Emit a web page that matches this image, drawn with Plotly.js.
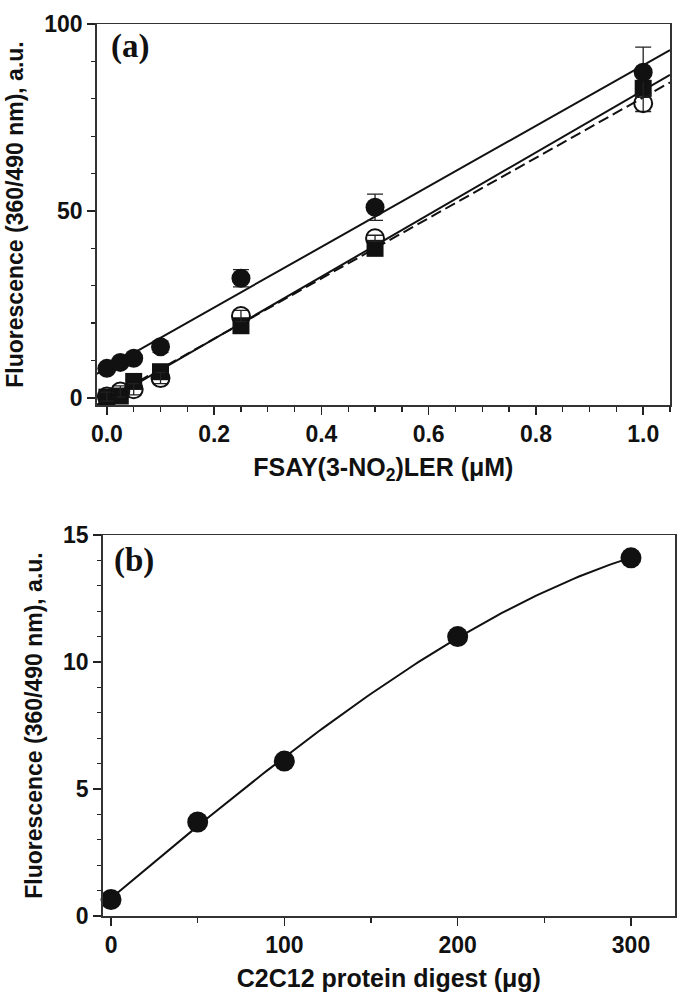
<!DOCTYPE html>
<html>
<head>
<meta charset="utf-8">
<script src="https://cdn.plot.ly/plotly-3.0.1.min.js"></script>
<style>html,body{margin:0;padding:0;background:#fff;}#chart{width:684px;height:1005px;}</style>
</head>
<body>
<div id="chart"></div>
<script>
// Panel (a): FSAY(3-NO2)LER concentration (µM)
const concA = [0, 0.025, 0.05, 0.1, 0.25, 0.5, 1.0];
const filledCircleA = [7.9, 9.5, 10.6, 13.7, 32.0, 51.0, 87.1];
const filledCircleErrA = [0.6, 0.6, 0.8, 1.5, 2.3, 3.5, 6.7];
const squareA = [0.2, 0.5, 4.4, 7.0, 19.3, 40.0, 82.8];
const squareErrA = [0.4, 0.4, 0.5, 0.7, 0.8, 1.0, 1.5];
const openCircleA = [0.35, 1.7, 2.3, 5.3, 21.9, 42.7, 78.8];
const openCircleErrA = [1.2, 1.5, 1.5, 1.5, 1.5, 0.8, 2.2];

// Panel (b): C2C12 protein digest (µg)
const digestB = [0, 50, 100, 200, 300];
const fluorB = [0.65, 3.7, 6.1, 11.0, 14.1];

const xRangeA = [-0.019, 1.05];

function linfit(xs, ys) {
  const n = xs.length;
  const mx = xs.reduce((a, b) => a + b, 0) / n;
  const my = ys.reduce((a, b) => a + b, 0) / n;
  let sxy = 0, sxx = 0;
  for (let i = 0; i < n; i++) { sxy += (xs[i] - mx) * (ys[i] - my); sxx += (xs[i] - mx) ** 2; }
  const m = sxy / sxx;
  return { m: m, b: my - m * mx };
}
function fitLine(xs, ys) {
  const f = linfit(xs, ys);
  return { x: xRangeA.slice(), y: xRangeA.map(v => f.b + f.m * v) };
}
// least-squares polynomial fit (degree d) of the panel (b) points, drawn as a smooth curve
function polyfit(xs, ys, d) {
  const s = 100;
  const n = d + 1;
  const A = Array.from({ length: n }, () => new Array(n + 1).fill(0));
  for (let k = 0; k < xs.length; k++) {
    const u = xs[k] / s;
    for (let i = 0; i < n; i++) {
      for (let j = 0; j < n; j++) A[i][j] += Math.pow(u, i + j);
      A[i][n] += ys[k] * Math.pow(u, i);
    }
  }
  for (let i = 0; i < n; i++) {
    let p = i;
    for (let r = i + 1; r < n; r++) if (Math.abs(A[r][i]) > Math.abs(A[p][i])) p = r;
    [A[i], A[p]] = [A[p], A[i]];
    for (let r = 0; r < n; r++) {
      if (r === i) continue;
      const f = A[r][i] / A[i][i];
      for (let c = i; c <= n; c++) A[r][c] -= f * A[i][c];
    }
  }
  const coef = A.map((row, i) => row[n] / row[i]);
  return x => coef.reduce((acc, c, i) => acc + c * Math.pow(x / s, i), 0);
}
const curveB = polyfit(digestB, fluorB, 3);
const xMinB = Math.min(...digestB), xMaxB = Math.max(...digestB);
const curveX = [], curveY = [];
for (let i = 0; i <= 120; i++) { const x = xMinB + (xMaxB - xMinB) * i / 120; curveX.push(x); curveY.push(curveB(x)); }

const ink = '#111';
const fitFilled = fitLine(concA, filledCircleA);
const fitSquare = fitLine(concA, squareA);
const fitOpen = fitLine(concA, openCircleA);

const errStyle = { type: 'data', visible: true, color: '#222', thickness: 1.3, width: 8 };

const traces = [
  { x: fitFilled.x, y: fitFilled.y, mode: 'lines', line: { color: ink, width: 2 }, xaxis: 'x', yaxis: 'y', hoverinfo: 'skip' },
  { x: fitSquare.x, y: fitSquare.y, mode: 'lines', line: { color: ink, width: 2 }, xaxis: 'x', yaxis: 'y', hoverinfo: 'skip' },
  { x: fitOpen.x, y: fitOpen.y, mode: 'lines', line: { color: ink, width: 2, dash: '11px,5px' }, xaxis: 'x', yaxis: 'y', hoverinfo: 'skip' },
  { x: concA, y: squareA, mode: 'markers', marker: { symbol: 'square', size: 17, color: ink },
    error_y: Object.assign({ array: squareErrA }, errStyle), xaxis: 'x', yaxis: 'y', cliponaxis: false },
  { x: concA, y: openCircleA, mode: 'markers', marker: { symbol: 'circle-open', size: 18, color: ink, line: { width: 2, color: ink } },
    error_y: Object.assign({ array: openCircleErrA }, errStyle), xaxis: 'x', yaxis: 'y', cliponaxis: false },
  { x: concA, y: filledCircleA, mode: 'markers', marker: { symbol: 'circle', size: 19, color: ink },
    error_y: Object.assign({ array: filledCircleErrA }, errStyle), xaxis: 'x', yaxis: 'y', cliponaxis: false },
  { x: curveX, y: curveY, mode: 'lines', line: { color: ink, width: 2 }, xaxis: 'x2', yaxis: 'y2', hoverinfo: 'skip' },
  { x: digestB, y: fluorB, mode: 'markers', marker: { symbol: 'circle', size: 21, color: ink }, xaxis: 'x2', yaxis: 'y2', cliponaxis: false }
];

const tickFont = { family: 'Liberation Sans, Arial, sans-serif', size: 23, color: ink, weight: 'bold' };
const yTitleFont = { family: 'Liberation Sans, Arial, sans-serif', size: 23, color: ink, weight: 'bold' };
const xTitleFont = { family: 'Liberation Sans, Arial, sans-serif', size: 25, color: ink, weight: 'bold' };
const W = 684, H = 1005;

function axisBase() {
  return {
    showgrid: false, zeroline: false, showline: true, linecolor: '#333', linewidth: 1.5, mirror: true,
    ticks: 'outside', ticklen: 8, tickwidth: 1.5, tickcolor: '#222', tickfont: tickFont,
    automargin: false, fixedrange: true
  };
}

const layout = {
  width: W, height: H,
  margin: { l: 0, r: 0, t: 0, b: 0 },
  paper_bgcolor: '#fff', plot_bgcolor: '#fff',
  showlegend: false,
  xaxis: Object.assign(axisBase(), {
    domain: [96.7 / W, 670 / W], range: xRangeA, tickvals: [0, 0.2, 0.4, 0.6, 0.8, 1.0], ticktext: ['0.0', '0.2', '0.4', '0.6', '0.8', '1.0'],
    minor: { dtick: 0.05, tick0: 0, ticks: 'outside', ticklen: 5, tickwidth: 1.3, tickcolor: '#222' },
    anchor: 'y',
    title: { text: 'FSAY(3-NO<sub>2</sub>)LER (\u03bcM)', font: xTitleFont, standoff: 12 }
  }),
  yaxis: Object.assign(axisBase(), {
    domain: [1 - 405 / H, 1 - 24 / H], range: [-1.9, 100], tickvals: [0, 50, 100],
    minor: { dtick: 10, tick0: 0, ticks: 'outside', ticklen: 4, tickwidth: 1.3, tickcolor: '#222' },
    anchor: 'x',
    title: { text: 'Fluorescence (360/490 nm), a.u.', font: yTitleFont, standoff: 14 }
  }),
  xaxis2: Object.assign(axisBase(), {
    domain: [102.7 / W, 675 / W], range: [-4.8, 325.4], tickvals: [0, 100, 200, 300],
    minor: { dtick: 50, tick0: 0, ticks: 'outside', ticklen: 5, tickwidth: 1.3, tickcolor: '#222' },
    anchor: 'y2',
    title: { text: 'C2C12 protein digest (\u03bcg)', font: xTitleFont, standoff: 12 }
  }),
  yaxis2: Object.assign(axisBase(), {
    domain: [1 - 916 / H, 1 - 535 / H], range: [0, 15], tickvals: [0, 5, 10, 15],
    minor: { dtick: 1, tick0: 0, ticks: 'outside', ticklen: 4, tickwidth: 1.3, tickcolor: '#222' },
    anchor: 'x2',
    title: { text: 'Fluorescence (360/490 nm), a.u.', font: yTitleFont, standoff: 14 }
  }),
  annotations: [
    { text: '(a)', xref: 'x domain', yref: 'y domain', x: 0.022, y: 0.94, xanchor: 'left', yanchor: 'middle', showarrow: false,
      font: { family: 'Liberation Serif, Times New Roman, serif', size: 33, color: ink, weight: 'bold' } },
    { text: '(b)', xref: 'x2 domain', yref: 'y2 domain', x: 0.017, y: 0.932, xanchor: 'left', yanchor: 'middle', showarrow: false,
      font: { family: 'Liberation Serif, Times New Roman, serif', size: 33, color: ink, weight: 'bold' } }
  ]
};

Plotly.newPlot('chart', traces, layout, { staticPlot: true, displayModeBar: false });
</script>
</body>
</html>
